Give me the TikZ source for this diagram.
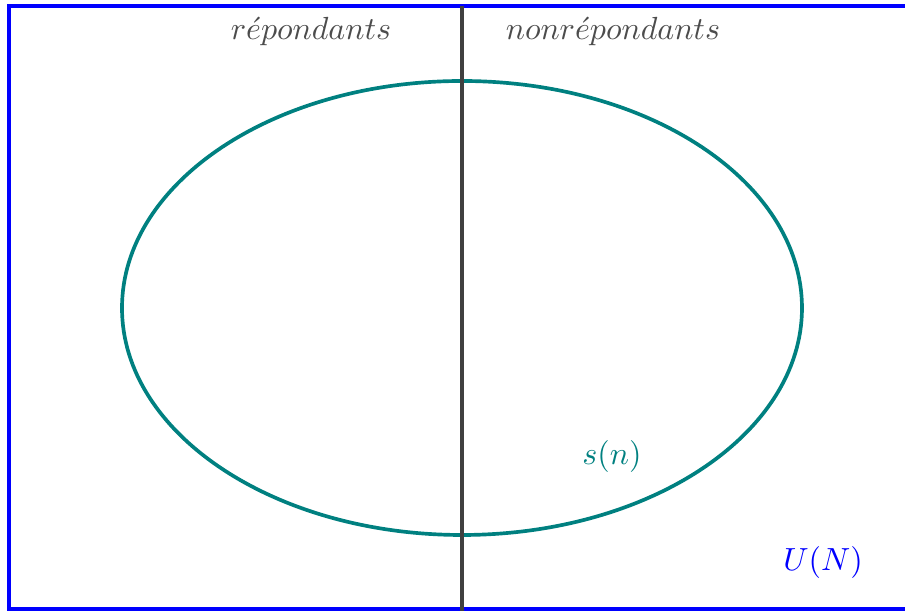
\documentclass[tikz,border=0pt]{standalone}
\usepackage{amsmath,amssymb}
\usepackage{tikz}
\usetikzlibrary{positioning,calc}

\tikzset{
  grlabel/.style={text=black!70},
  cadre/.style={draw=blue, line width=1.2pt},
}

\begin{document}
\begin{tikzpicture}[x=0.3125pt, y=-0.3125pt]
	\clip (0,0) rectangle (905,611);
	% population
	\draw[cadre] (9,6) rectangle (915,609);
	% echantillon
	\draw[teal, line width=1.15pt] (462,308) ellipse [x radius=340, y radius=227];
	\draw[black!75, line width=1.25pt] (462,6) -- (462,615);
	\node[grlabel] (rep) at (311,32) {$r\acute{e}pondants$};
	\node[grlabel] (nonrep) at (613,32) {$nonr\acute{e}pondants$};
	\node[text=teal] (sn) at (612,457) {$s(n)$};
	\node[text=blue] (UN) at (823,563) {$U(N)$};
\end{tikzpicture}
\end{document}
